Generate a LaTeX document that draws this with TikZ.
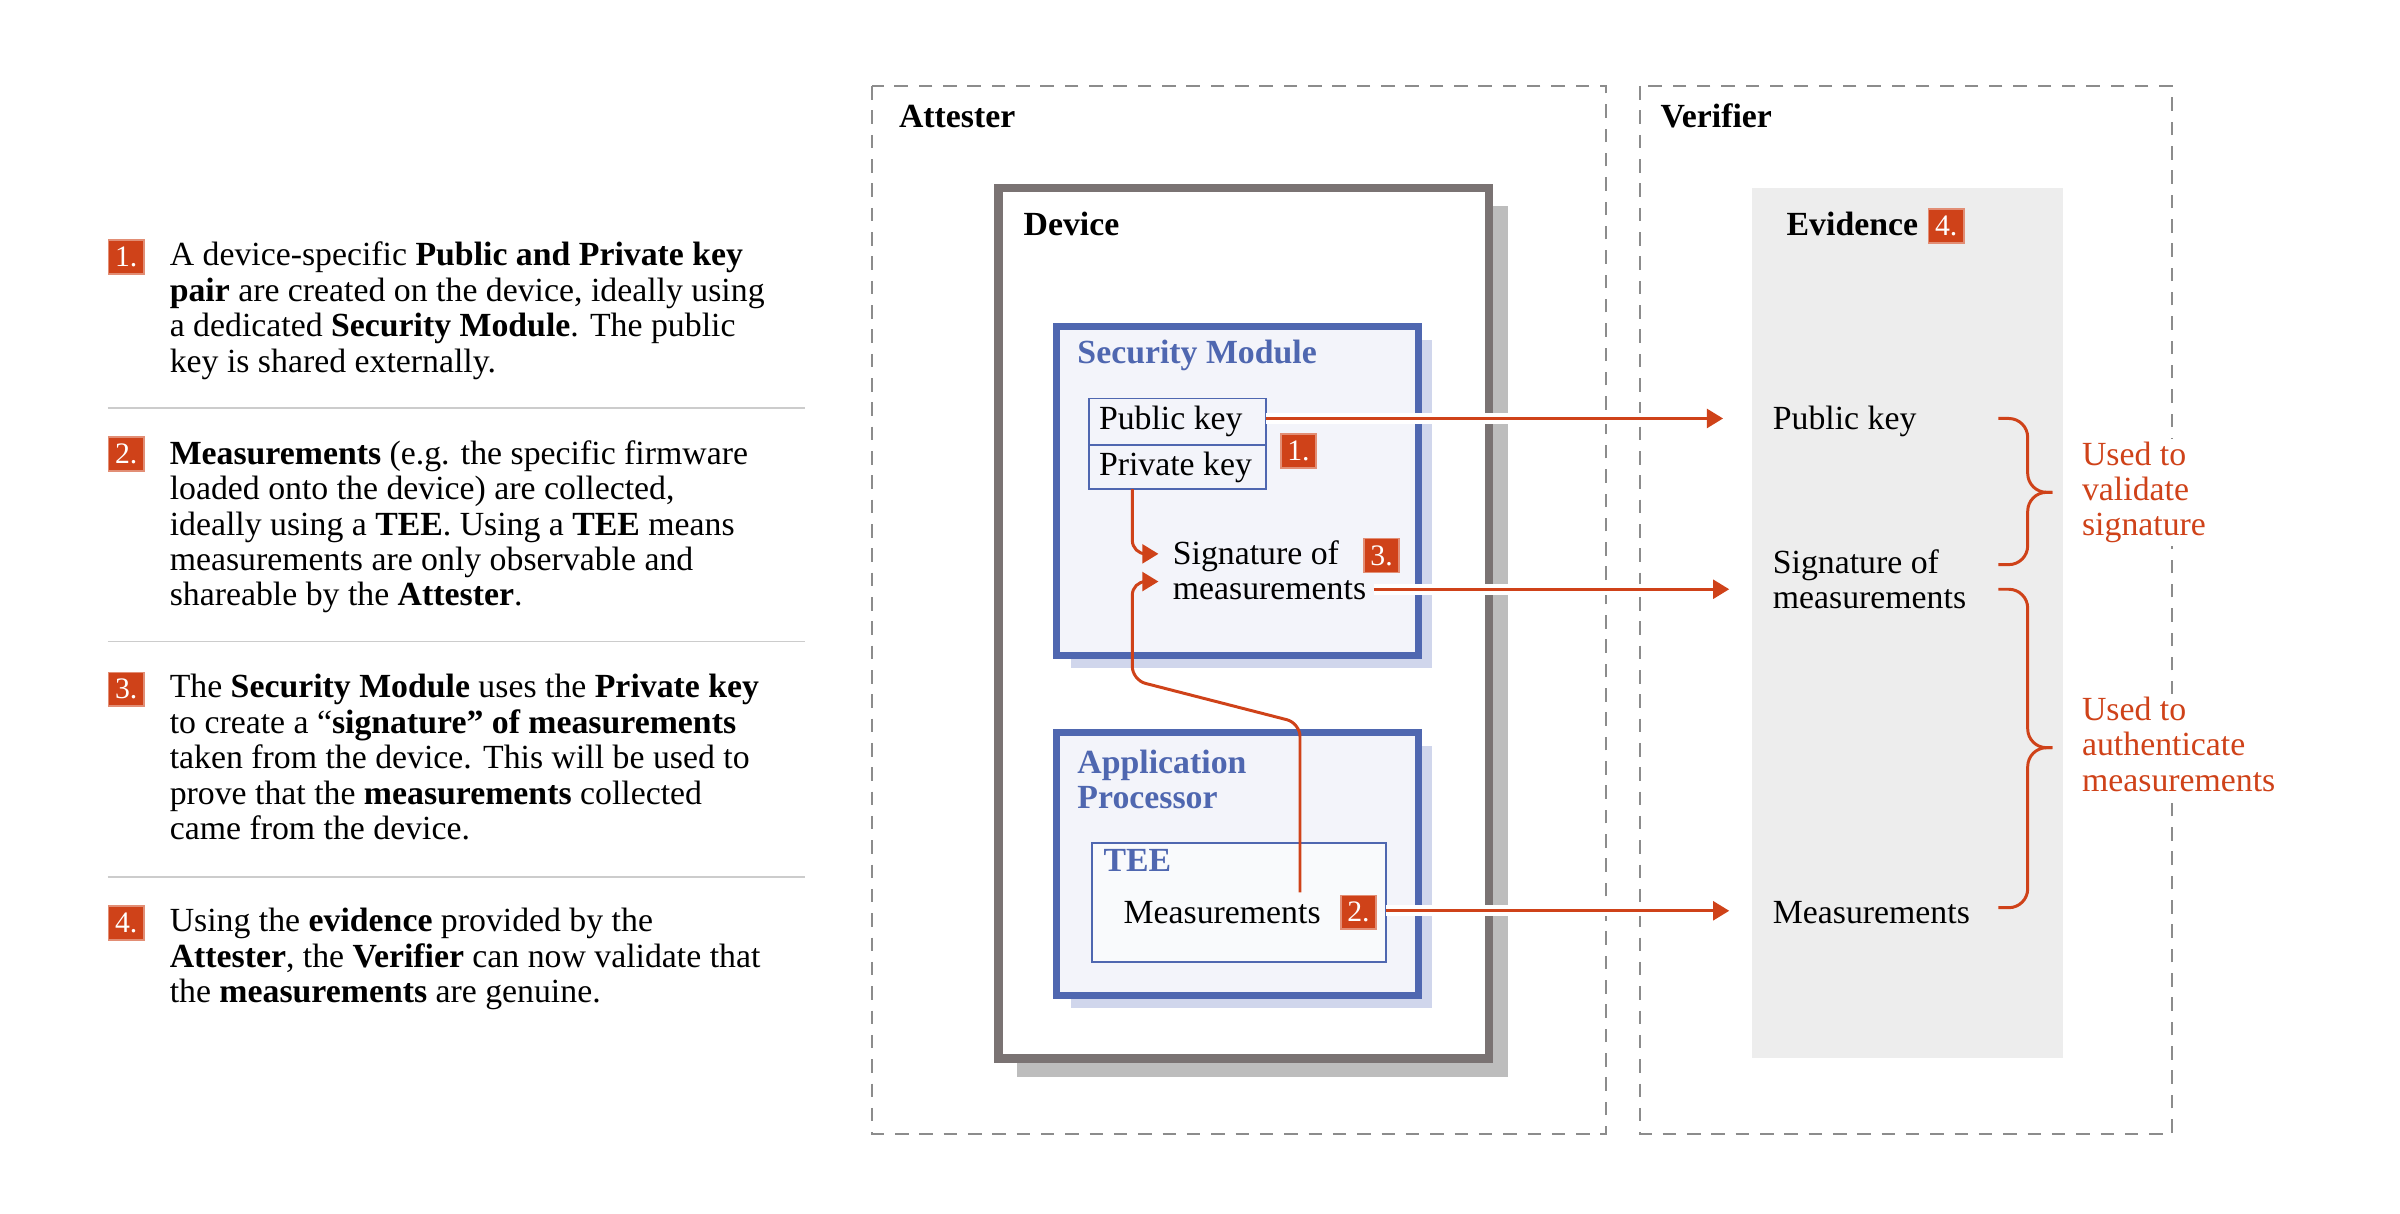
\documentclass[tikz,border=0pt]{standalone}
\usepackage{fontspec}
\setmainfont{Liberation Serif}
\usetikzlibrary{arrows.meta}
\definecolor{acc}{HTML}{CF4219}
\definecolor{blu}{HTML}{4F67B0}
\definecolor{bluf}{HTML}{F3F4FA}
\definecolor{blush}{HTML}{D0D6EC}
\definecolor{devb}{HTML}{7A7373}
\definecolor{devsh}{HTML}{BDBDBD}
\definecolor{evd}{HTML}{EDEDED}
\begin{document}
\begin{tikzpicture}[x=0.02cm,y=-0.02cm,
  txt/.style={font=\fontsize{12.5}{13.1}\selectfont,inner sep=0,align=left,text=black},
  ptxt/.style={txt,anchor=north west},
  badge/.style={fill=acc,text=white,font=\fontsize{11}{12}\selectfont,minimum width=0.46cm,minimum height=0.44cm,inner sep=0,draw=acc!60!white,line width=0.6pt},
  sep/.style={draw=black!20,line width=0.6pt},
  dashbox/.style={draw=black!45,line width=0.7pt,dash pattern=on 5pt off 4pt},
  title/.style={txt,font=\fontsize{12.5}{13.1}\selectfont\bfseries,anchor=base west},
  btitle/.style={txt,font=\fontsize{12.5}{13.1}\selectfont\bfseries,text=blu,anchor=north west},
  arr/.style={draw=acc,line width=1.1pt,-{Triangle[length=6pt,width=7pt]}},
  halo/.style={draw=white,line width=4pt},
  brace/.style={draw=acc,line width=1.1pt,rounded corners=7pt},
  red/.style={txt,text=acc,anchor=north west,fill=white,inner ysep=1pt}
]
\useasboundingbox (0,0) rectangle (1560,789);
% left text
\node[badge] (b1) at (82,167) {1.};
\node[ptxt] (t1) at (110,157) {A device-specific \textbf{Public and Private key}\\\textbf{pair} are created on the device, ideally using\\a dedicated \textbf{Security Module}. The public\\key is shared externally.};
\draw[sep] (70,265) -- (523,265);
\node[badge] (b2) at (82,295) {2.};
\node[ptxt] (t2) at (110,286) {\textbf{Measurements} (e.g. the specific firmware\\loaded onto the device) are collected,\\ideally using a \textbf{TEE}. Using a \textbf{TEE} means\\measurements are only observable and\\shareable by the \textbf{Attester}.};
\draw[sep] (70,417) -- (523,417);
\node[badge] (b3) at (82,448) {3.};
\node[ptxt] (t3) at (110,438) {The \textbf{Security Module} uses the \textbf{Private key}\\to create a “\textbf{signature” of measurements}\\taken from the device. This will be used to\\prove that the \textbf{measurements} collected\\came from the device.};
\draw[sep] (70,570) -- (523,570);
\node[badge] (b4) at (82,600) {4.};
\node[ptxt] (t4) at (110,590) {Using the \textbf{evidence} provided by the\\\textbf{Attester}, the \textbf{Verifier} can now validate that\\the \textbf{measurements} are genuine.};
% containers
\draw[dashbox] (567,56) rectangle (1044,737);
\node[title] (att) at (584,83) {Attester};
\draw[dashbox] (1066,56) rectangle (1412,737);
\node[title] (ver) at (1079,83) {Verifier};
% device
\fill[devsh] (661,134) rectangle (980,700);
\draw[devb,fill=white,line width=3pt] (649,122) rectangle (968,688);
\node[title] (dev) at (665,153) {Device};
% security module
\fill[blush] (696,221) rectangle (931,434);
\draw[blu,fill=bluf,line width=2.6pt] (687,212) rectangle (922,426);
\node[btitle] (sm) at (700,221) {Security Module};
\draw[blu,fill=bluf,line width=0.7pt] (708,259) rectangle (823,289);
\draw[blu,fill=bluf,line width=0.7pt] (708,289) rectangle (823,318);
\node[txt,anchor=west] (pub) at (714,274) {Public key};
\node[txt,anchor=west] (priv) at (714,304) {Private key};
\coordinate (pubR) at (823,272);
\coordinate (privB) at (736,318);
\node[badge] (b1b) at (844,293) {1.};
\node[ptxt] (sig) at (762,351) {Signature of\\measurements};
\node[badge] (b3b) at (898,361) {3.};
% application processor
\fill[blush] (696,485) rectangle (931,655);
\draw[blu,fill=bluf,line width=2.6pt] (687,476) rectangle (922,647);
\node[btitle] (ap) at (700,487) {Application\\Processor};
\draw[blu,fill=white!50!bluf,line width=0.7pt] (710,548) rectangle (901,625);
\node[btitle] (tee) at (717,552) {TEE};
\node[txt,anchor=west] (meas) at (730,593) {Measurements};
\node[badge] (b2b) at (883,593) {2.};
% evidence
\fill[evd] (1139,122) rectangle (1341,688);
\node[title] (ev) at (1161,153) {Evidence};
\node[badge] (b4b) at (1265,147) {4.};
\node[txt,anchor=west] (epub) at (1152,274) {Public key};
\node[ptxt] (esig) at (1152,357) {Signature of\\measurements};
\node[txt,anchor=west] (emeas) at (1152,593) {Measurements};
% arrows
\coordinate (e1) at (1120,272);
\coordinate (s1) at (893,383);
\coordinate (e2) at (1124,383);
\coordinate (s3) at (901,592);
\coordinate (e3) at (1124,592);
\draw[halo] (pubR) -- (e1);
\draw[halo] (s1) -- (e2);
\draw[halo] (s3) -- (e3);
\draw[arr] (pubR) -- (e1);
\draw[arr] (s1) -- (e2);
\draw[arr] (s3) -- (e3);
\draw[arr,rounded corners=5pt] (privB) |- (753,360);
\draw[arr,rounded corners=5pt] (845,580) -- (845,470) -- (736,442) |- (753,378);
% braces
\draw[brace] (1299,272) -| (1318,320) -- (1334,320);
\draw[brace] (1299,367) -| (1318,320) -- (1334,320);
\draw[brace] (1299,383) -| (1318,486) -- (1334,486);
\draw[brace] (1299,590) -| (1318,486) -- (1334,486);
\node[red] (u1) at (1353,285) {Used to\\validate\\signature};
\node[red] (u2) at (1353,451) {Used to\\authenticate\\measurements};
\end{tikzpicture}
\end{document}
